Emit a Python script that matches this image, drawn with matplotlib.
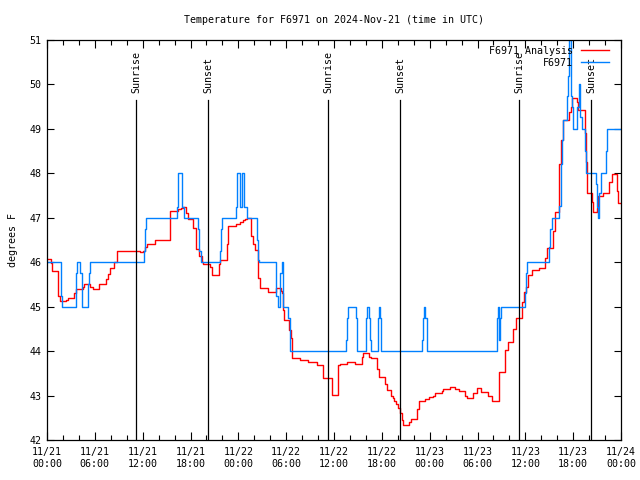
import numpy as np
import pandas as pd
import matplotlib
matplotlib.use('Agg')
import matplotlib.pyplot as plt
import matplotlib.dates as mdates
import matplotlib.transforms as mtransforms

base = pd.Timestamp('2024-11-21 00:00')

# F6971 analysis (hours since 11/21 00:00 UTC, deg F)
ana_hours = [0.0, 0.46, 0.66, 1.42, 1.67, 2.38, 2.6, 3.42, 3.64, 4.48, 4.68, 5.39,
             5.81, 6.52, 7.4, 7.65, 7.9, 8.4, 8.74, 11.67, 12.08, 12.29, 12.58,
             13.55, 15.43, 16.47, 16.77, 17.1, 17.44, 17.72, 18.35, 18.69, 19.1,
             19.4, 19.6, 20.45, 20.66, 21.58, 21.7, 22.54, 22.74, 23.71, 24.21,
             24.63, 24.84, 25.09, 25.59, 25.84, 26.09, 26.43, 26.72, 27.76, 28.73,
             29.32, 29.48, 29.64, 29.77, 30.39, 30.61, 30.77, 31.74, 32.78, 33.83,
             34.66, 35.71, 36.54, 36.75, 37.59, 38.63, 39.47, 39.68, 40.39, 40.6,
             41.43, 41.65, 42.4, 42.61, 43.15, 43.36, 43.57, 43.78, 43.99, 44.28,
             44.49, 44.62, 45.45, 45.66, 46.45, 46.66, 47.42, 47.95, 48.46, 48.67,
             49.51, 49.71, 50.55, 51.18, 51.72, 52.43, 52.65, 53.47, 53.98, 54.4,
             55.36, 55.78, 56.7, 57.49, 57.79, 58.49, 58.79, 59.54, 59.83, 60.09,
             60.38, 60.8, 61.72, 62.47, 62.68, 63.43, 63.72, 64.26, 64.48, 64.77,
             65.52, 65.67, 65.82, 66.45, 66.65, 67.49, 67.61, 67.77, 68.33, 68.53,
             68.95, 69.16, 69.78, 70.53, 70.83, 71.46, 71.66, 72.0]
ana_temp = [46.08, 45.99, 45.8, 45.25, 45.12, 45.15, 45.2, 45.3, 45.39, 45.45, 45.52, 45.45,
            45.39, 45.5, 45.62, 45.73, 45.86, 46.01, 46.26, 46.22, 46.26, 46.35, 46.42,
            46.5, 47.16, 47.2, 47.23, 47.25, 47.1, 46.97, 46.77, 46.29, 46.13,
            46.0, 45.97, 45.9, 45.71, 45.97, 46.05, 46.4, 46.81, 46.87, 46.9,
            46.94, 46.97, 47.0, 46.58, 46.4, 46.28, 45.64, 45.43, 45.33, 45.43,
            45.36, 45.3, 44.92, 44.7, 44.47, 44.29, 43.84, 43.79, 43.75, 43.68,
            43.39, 43.01, 43.69, 43.7, 43.76, 43.72, 43.87, 43.96, 43.86, 43.84,
            43.6, 43.42, 43.25, 43.12, 43.0, 42.94, 42.88, 42.8, 42.72, 42.6,
            42.45, 42.34, 42.41, 42.48, 42.7, 42.87, 42.92, 42.96, 43.0, 43.05,
            43.1, 43.14, 43.2, 43.15, 43.1, 43.0, 42.94, 43.05, 43.16, 43.09,
            43.0, 42.88, 43.54, 44.02, 44.2, 44.5, 44.74, 45.11, 45.34, 45.45,
            45.71, 45.82, 45.86, 46.1, 46.31, 46.7, 47.14, 48.2, 48.75, 49.21,
            49.39, 49.5, 49.69, 49.61, 49.42, 48.9, 48.26, 47.55, 47.35, 47.14,
            47.21, 47.48, 47.55, 47.8, 47.98, 47.6, 47.33, 47.33]

# F6971 observations
obs_hours = [0.0, 1.72, 1.79, 1.92, 3.68, 3.76, 4.14, 4.35, 4.43, 5.18, 5.27, 5.39,
             12.2, 12.33, 12.46, 16.27, 16.47, 16.97, 17.15, 18.98, 19.1, 19.28,
             21.7, 21.83, 21.99, 23.71, 23.87, 24.21, 24.42, 24.71, 25.05, 26.3,
             26.43, 26.59, 28.73, 28.94, 29.23, 29.48, 29.64, 30.27, 30.48, 37.47,
             37.59, 37.72, 38.72, 38.85, 38.92, 40.02, 40.14, 40.43, 40.56, 40.64,
             41.52, 41.65, 41.83, 41.93, 47.0, 47.13, 47.25, 47.45, 47.63, 56.48,
             56.61, 56.74, 56.86, 57.0, 60.0, 60.12, 60.25, 63.01, 63.13, 63.31,
             64.26, 64.44, 64.56, 64.77, 65.19, 65.32, 65.44, 65.52, 65.69, 65.82,
             66.02, 66.52, 66.73, 66.86, 67.07, 67.49, 67.57, 68.83, 68.95, 69.08,
             69.28, 69.49, 70.12, 70.28, 72.0]
obs_temp = [46, 45.75, 45.25, 45, 45.75, 46, 45.75, 45.25, 45, 45.5, 45.75, 46,
            46.25, 46.75, 47, 47.25, 48, 47.25, 47, 46.75, 46.25, 46,
            46.25, 46.75, 47, 47.25, 48, 47.25, 48, 47.25, 47, 46.5,
            46.05, 46, 45.25, 45, 45.75, 46, 45, 44.75, 44, 44.25,
            44.75, 45, 44.75, 44.25, 44, 44.75, 45, 44.75, 44.25, 44,
            44.75, 45, 44.75, 44, 44.25, 44.75, 45, 44.75, 44, 44.75,
            45, 44.25, 44.75, 45, 45.3, 45.75, 46, 46.35, 46.75, 47,
            47.27, 48.2, 48.75, 49.2, 49.75, 50.2, 50.75, 51, 49.75, 49.5,
            49, 49.5, 50, 49.27, 49, 48.5, 48, 47.75, 47.25, 47,
            47.55, 48, 48.5, 49, 49]

sunrise_hours = [11.22, 35.29, 59.25]
sunset_hours = [20.23, 44.32, 68.28]

def to_time(h):
    return base + pd.to_timedelta(np.array(h), unit='h')

plt.rcParams['font.family'] = 'DejaVu Sans Mono'
plt.rcParams['font.size'] = 7.2

fig = plt.figure(figsize=(6.4, 4.8), dpi=100)
ax = fig.add_axes([47 / 640, 40 / 480, 574 / 640, 400 / 480])

ax.plot(to_time(ana_hours), ana_temp, drawstyle='steps-post', color='#ff0000',
        lw=1.0, label='F6971 Analysis')
ax.plot(to_time(obs_hours), obs_temp, drawstyle='steps-post', color='#0080ff',
        lw=1.0, label='F6971')

trans = mtransforms.blended_transform_factory(ax.transData, ax.transAxes)
for hrs, name in [(sunrise_hours, 'Sunrise'), (sunset_hours, 'Sunset')]:
    for t in to_time(hrs):
        ax.plot([t, t], [0, 0.85], color='black', lw=0.9, transform=trans)
        ax.text(t, 0.868, name, rotation=90, ha='center', va='bottom',
                transform=trans)

ax.set_xlim(base, base + pd.Timedelta(hours=72))
ax.set_ylim(42, 51)
ax.set_yticks(np.arange(42, 52, 1))
ax.xaxis.set_major_locator(mdates.HourLocator(byhour=[0, 6, 12, 18]))
ax.xaxis.set_minor_locator(mdates.HourLocator(interval=2))
ax.xaxis.set_major_formatter(mdates.DateFormatter('%m/%d\n%H:%M'))
ax.tick_params(which='both', direction='in', top=True, right=True, width=0.8,
               colors='black', labelsize=7.2)
ax.tick_params(which='major', length=6, pad=5)
ax.tick_params(which='minor', length=3.5)
ax.tick_params(axis='y', which='major', length=5, pad=4)
for sp in ax.spines.values():
    sp.set_linewidth(0.9)

ax.set_ylabel('degrees F', labelpad=8)
ax.set_title('Temperature for F6971 on 2024-Nov-21 (time in UTC)', fontsize=7.2, pad=12.5)

ax.legend(loc='upper right', frameon=False, markerfirst=False, handlelength=2.8,
          handletextpad=0.8, labelspacing=0.22, borderaxespad=0.4, fontsize=7.2,
          bbox_to_anchor=(0.993, 1.006))

fig.savefig('out.png', dpi=100)
